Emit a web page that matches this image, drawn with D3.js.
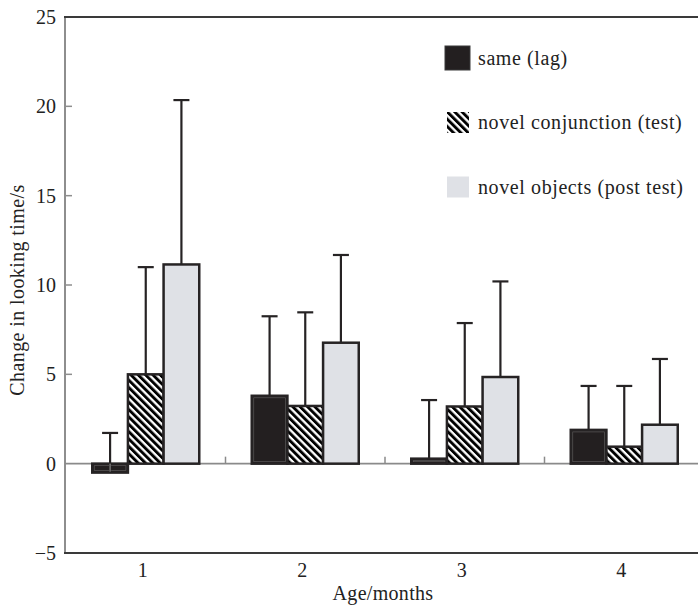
<!DOCTYPE html>
<html>
<head>
<meta charset="utf-8">
<script src="https://cdn.jsdelivr.net/npm/d3@7"></script>
<style>
  html, body { margin: 0; padding: 0; background: #fff; }
  svg { display: block; font-family: "Liberation Serif", "Times New Roman", serif; }
</style>
</head>
<body>
<script>
// Age groups on the x axis
const ages = ["1", "2", "3", "4"];

// Series (legend order)
const seriesNames = ["same (lag)", "novel conjunction (test)", "novel objects (post test)"];

// Mean change in looking time (s), one value per age
const sameLag = [-0.5, 3.8, 0.28, 1.89];
const novelConjunction = [5.0, 3.23, 3.2, 0.95];
const novelObjects = [11.15, 6.77, 4.85, 2.18];

// Upper error bar size (s)
const sameLagErr = [2.22, 4.45, 3.28, 2.46];
const novelConjunctionErr = [6.0, 5.24, 4.67, 3.4];
const novelObjectsErr = [9.2, 4.91, 5.35, 3.68];

const yTicks = [-5, 0, 5, 10, 15, 20, 25];

const width = 698, height = 607;
const plotLeft = 65, plotRight = 704, plotTop = 17, plotBottom = 553;

const svg = d3.select("body").append("svg")
    .attr("width", width)
    .attr("height", height);

// hatch pattern for the "novel conjunction" bars
const defs = svg.append("defs");
defs.append("pattern")
    .attr("id", "hatch")
    .attr("patternUnits", "userSpaceOnUse")
    .attr("width", 5.2)
    .attr("height", 5.2)
    .attr("patternTransform", "rotate(-45)")
  .call(p => {
    p.append("rect").attr("width", 5.2).attr("height", 5.2).attr("fill", "#fff");
    p.append("rect").attr("width", 2.9).attr("height", 5.2).attr("fill", "#000");
  });

const fills = ["#231f20", "url(#hatch)", "#dfe1e6"];

const series = seriesNames.map((name, i) => ({
    name,
    fill: fills[i],
    values: [sameLag, novelConjunction, novelObjects][i],
    errs: [sameLagErr, novelConjunctionErr, novelObjectsErr][i]
}));

// Scales
const y = d3.scaleLinear().domain([-5, 25]).range([plotBottom, plotTop]);
const x = d3.scaleBand().domain(ages).range([plotLeft + 1, plotRight]).padding(0);
const xInner = d3.scaleBand().domain(seriesNames).range([0, 107]).padding(0);
const groupOffset = (x.bandwidth() - xInner.range()[1]) / 2;

// Frame: gray left axis, dark top and bottom rules
svg.append("line")
    .attr("x1", plotLeft).attr("x2", plotLeft)
    .attr("y1", plotTop).attr("y2", plotBottom)
    .attr("stroke", "#8e8e8e").attr("stroke-width", 2);

svg.append("line")
    .attr("x1", plotLeft - 1).attr("x2", width)
    .attr("y1", y(25)).attr("y2", y(25))
    .attr("stroke", "#3a3a3a").attr("stroke-width", 2);

svg.append("line")
    .attr("x1", plotLeft - 1).attr("x2", width)
    .attr("y1", y(-5)).attr("y2", y(-5))
    .attr("stroke", "#3a3a3a").attr("stroke-width", 2);

// Zero line
svg.append("line")
    .attr("x1", plotLeft).attr("x2", width)
    .attr("y1", y(0)).attr("y2", y(0))
    .attr("stroke", "#8a8a8a").attr("stroke-width", 1.6);

// Inward y ticks (not on the frame lines)
svg.append("g")
  .selectAll("line")
  .data(yTicks.filter(d => d > 0 && d < 25))
  .join("line")
    .attr("x1", plotLeft).attr("x2", plotLeft + 7)
    .attr("y1", d => y(d)).attr("y2", d => y(d))
    .attr("stroke", "#8e8e8e").attr("stroke-width", 1.5);

// Y tick labels
svg.append("g")
  .selectAll("text")
  .data(yTicks)
  .join("text")
    .attr("x", 56)
    .attr("y", d => y(d))
    .attr("dy", "0.35em")
    .attr("text-anchor", "end")
    .style("font-size", "20px")
    .attr("fill", "#222")
    .text(d => d3.format("d")(d));

// Small ticks on the zero line between age groups
svg.append("g")
  .selectAll("line")
  .data(ages.slice(1))
  .join("line")
    .attr("x1", d => x(d)).attr("x2", d => x(d))
    .attr("y1", y(0)).attr("y2", y(0) - 7)
    .attr("stroke", "#8a8a8a").attr("stroke-width", 1.5);

// Bars
const groups = svg.append("g")
  .selectAll("g")
  .data(ages)
  .join("g")
    .attr("transform", d => `translate(${x(d) + groupOffset},0)`);

groups.selectAll("rect.bar")
  .data((d, i) => series.map(s => ({ s, v: s.values[i], e: s.errs[i] })))
  .join("rect")
    .attr("class", "bar")
    .attr("x", d => xInner(d.s.name))
    .attr("width", xInner.bandwidth())
    .attr("y", d => y(Math.max(0, d.v)))
    .attr("height", d => Math.abs(y(d.v) - y(0)))
    .attr("fill", d => d.s.fill)
    .attr("stroke", "#262324")
    .attr("stroke-width", 2.5);

// faint inner edge on the black bars
groups.selectAll("rect.inner")
  .data((d, i) => [{ s: series[0], v: series[0].values[i] }])
  .join("rect")
    .attr("class", "inner")
    .attr("x", d => xInner(d.s.name) + 2)
    .attr("width", xInner.bandwidth() - 4)
    .attr("y", d => y(Math.max(0, d.v)) + 2)
    .attr("height", d => Math.max(0, Math.abs(y(d.v) - y(0)) - 4))
    .attr("fill", "none")
    .attr("stroke", "#5c5a5a")
    .attr("stroke-width", 0.7);

// Error bars (upper only)
const errs = groups.selectAll("g.err")
  .data((d, i) => series.map(s => ({ s, v: s.values[i], e: s.errs[i] })))
  .join("g")
    .attr("class", "err")
    .attr("transform", d => `translate(${xInner(d.s.name) + xInner.bandwidth() / 2},0)`);

errs.append("line")
    .attr("y1", d => y(d.v)).attr("y2", d => y(d.v + d.e))
    .attr("stroke", "#262324")
    .attr("stroke-width", 2.2);

// where the whisker runs through a negative bar it shows lighter
errs.filter(d => d.v < 0).append("line")
    .attr("y1", d => y(d.v) - 1).attr("y2", d => y(0))
    .attr("stroke", "#9a9a9a")
    .attr("stroke-width", 1);

errs.append("line")
    .attr("x1", -8).attr("x2", 8)
    .attr("y1", d => y(d.v + d.e)).attr("y2", d => y(d.v + d.e))
    .attr("stroke", "#262324")
    .attr("stroke-width", 2.2);

// X tick labels
svg.append("g")
  .selectAll("text")
  .data(ages)
  .join("text")
    .attr("x", d => x(d) + x.bandwidth() / 2 - 3)
    .attr("y", 577)
    .attr("text-anchor", "middle")
    .style("font-size", "20px")
    .attr("fill", "#222")
    .text(d => d);

// Axis titles
svg.append("text")
    .attr("x", 383)
    .attr("y", 600)
    .attr("text-anchor", "middle")
    .style("font-size", "20px")
    .style("letter-spacing", "0.3px")
    .attr("fill", "#222")
    .text("Age/months");

svg.append("text")
    .attr("transform", `translate(24,${(plotTop + plotBottom) / 2 + 5}) rotate(-90)`)
    .attr("text-anchor", "middle")
    .style("font-size", "20px")
    .style("letter-spacing", "0.4px")
    .attr("fill", "#222")
    .text("Change in looking time/s");

// Legend
const legend = svg.append("g")
  .selectAll("g")
  .data(series)
  .join("g")
    .attr("transform", (d, i) => `translate(0,${58 + i * 64.5})`);

legend.append("rect")
    .attr("x", (d, i) => i === 0 ? 445 : 447)
    .attr("y", (d, i) => i === 0 ? -12 : -10.5)
    .attr("width", (d, i) => i === 0 ? 25 : 22)
    .attr("height", (d, i) => i === 0 ? 24 : 21)
    .attr("fill", d => d.fill)
    .attr("stroke", (d, i) => i === 0 ? "#3a3a3a" : "none")
    .attr("stroke-width", 1);

legend.append("text")
    .attr("x", 478)
    .attr("dy", "0.33em")
    .style("font-size", "20px")
    .style("letter-spacing", "0.6px")
    .attr("fill", "#222")
    .text(d => d.name);
</script>
</body>
</html>
